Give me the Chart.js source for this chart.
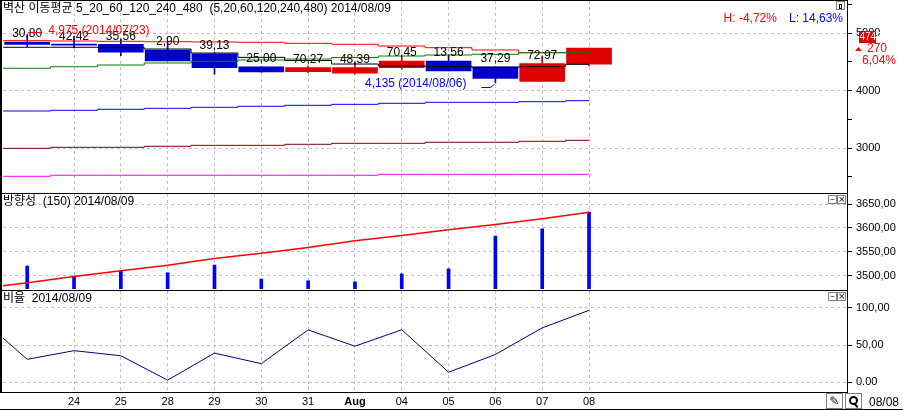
<!DOCTYPE html>
<html lang="ko">
<head>
<meta charset="utf-8">
<title>벽산 이동평균</title>
<script src="https://cdn.jsdelivr.net/npm/chart.js@4.4.1/dist/chart.umd.min.js"></script>
<style>
  body { margin: 0; background: #fff; }
  #wrap { position: relative; width: 903px; height: 410px; overflow: hidden; background: #fff; }
  #wrap canvas { position: absolute; left: 0; }
  .lbl { position: absolute; white-space: pre; font: 12px "Liberation Sans", "Noto Sans CJK KR", sans-serif; line-height: 14px; color: #000; z-index: 3; }
  .ln { position: absolute; background: #000; z-index: 2; }
  .ico { position: absolute; box-sizing: border-box; border: 1px solid #808080; background: #fff; z-index: 3;
         font: 9px "DejaVu Sans", sans-serif; line-height: 7px; text-align: center; color: #000; }
</style>
</head>
<body>
<div id="wrap">
  <canvas id="priceChart" width="903" height="193" style="top:0"></canvas>
  <canvas id="dirChart" width="903" height="97" style="top:193px"></canvas>
  <canvas id="ratioChart" width="903" height="120" style="top:290px"></canvas>

  <!-- frame -->
  <div class="ln" style="left:0;top:0;width:848px;height:1px"></div>
  <div class="ln" style="left:0;top:0;width:2px;height:393px"></div>
  <div class="ln" style="left:847px;top:0;width:1px;height:393px"></div>
  <div class="ln" style="left:0;top:193px;width:848px;height:1px"></div>
  <div class="ln" style="left:0;top:290px;width:848px;height:1px"></div>
  <div class="ln" style="left:0;top:392px;width:848px;height:1px"></div>
  <div class="ln" style="left:0;top:409px;width:903px;height:1px"></div>

  <!-- panel titles -->
  <div class="lbl" style="left:3px;top:1px">벽산 이동평균 5_20_60_120_240_480  (5,20,60,120,240,480) 2014/08/09</div>
  <div class="lbl" style="left:3px;top:194px">방향성  (150) 2014/08/09</div>
  <div class="lbl" style="left:3px;top:291px">비율  2014/08/09</div>
  <div class="lbl" id="lastDay" style="left:869px;top:395px"></div>

  <!-- window icons -->
  <div class="ico" style="left:836px;top:1px;width:9px;height:9px;padding:1px"><div style="border:1px solid #000;height:3px;margin:1px"></div></div>
  <div class="ico" style="left:828px;top:195px;width:9px;height:9px">&#8211;</div>
  <div class="ico" style="left:837px;top:195px;width:9px;height:9px">&#215;</div>
  <div class="ico" style="left:828px;top:292px;width:9px;height:9px">&#8211;</div>
  <div class="ico" style="left:837px;top:292px;width:9px;height:9px">&#215;</div>
  <div class="ico" style="left:826px;top:393px;width:17px;height:16px;font-size:12px;line-height:14px">&#9998;</div>
  <div class="ico" style="left:845px;top:393px;width:17px;height:16px">
    <div style="position:absolute;left:3px;top:2px;width:5px;height:5px;border:2px solid #000;border-radius:50%"></div>
    <div style="position:absolute;left:9px;top:9px;width:2px;height:5px;background:#000;transform:rotate(-45deg)"></div>
  </div>
</div>

<script>
// Trading days shown
const dates = ['2014/07/23', '2014/07/24', '2014/07/25', '2014/07/28', '2014/07/29', '2014/07/30', '2014/07/31',
               '2014/08/01', '2014/08/04', '2014/08/05', '2014/08/06', '2014/08/07', '2014/08/08'];
const dayLabels = ['23', '24', '25', '28', '29', '30', '31', 'Aug', '04', '05', '06', '07', '08'];

// Daily prices
const openP  = [4845, 4808, 4805, 4707, 4643, 4414, 4333, 4305, 4402, 4517, 4414, 4160, 4460];
const highP  = [4975, 4950, 4890, 4862, 4660, 4420, 4430, 4488, 4603, 4603, 4420, 4603, 4740];
const lowP   = [4764, 4745, 4610, 4517, 4288, 4320, 4315, 4288, 4374, 4345, 4135, 4160, 4430];
const closeP = [4805, 4792, 4672, 4517, 4402, 4328, 4402, 4402, 4517, 4345, 4212, 4470, 4740];

// Moving averages 5 / 20 / 60 / 120 / 240 / 480
const ma5   = [4755, 4755, 4750, 4725, 4655, 4580, 4525, 4464, 4430, 4420, 4407, 4417, 4459];
const ma20  = [4870, 4864, 4859, 4852, 4847, 4842, 4824, 4807, 4777, 4748, 4708, 4661, 4668];
const ma60  = [4390, 4417, 4447, 4482, 4511, 4534, 4551, 4577, 4603, 4621, 4633, 4661, 4668];
const ma120 = [3647, 3659, 3677, 3694, 3711, 3729, 3746, 3763, 3781, 3798, 3798, 3809, 3826];
const ma240 = [2998, 3016, 3016, 3033, 3050, 3050, 3068, 3085, 3085, 3103, 3103, 3120, 3137];
const ma480 = [2511, 2529, 2529, 2529, 2529, 2529, 2529, 2529, 2546, 2546, 2546, 2546, 2546];

// 방향성 (150) panel
const dirBars  = [3520, 3499, 3510, 3506, 3522, 3493, 3489, 3487, 3504, 3514, 3583, 3598, 3633];
const dirTrend = [3485, 3498, 3510, 3522, 3536, 3547, 3559, 3573, 3584, 3596, 3607, 3619, 3633];
const dirTrendPrev = 3473;

// 비율 panel
const ratio = [30.80, 42.42, 35.56, 2.90, 39.13, 25.00, 70.27, 48.39, 70.45, 13.56, 37.29, 72.97, 96.5];
const ratioPrev = 86;

// Axis ticks
const priceTicks = [2500, 3000, 3500, 4000, 4500, 5000, 5500];
const dirTicks = [3500, 3550, 3600, 3650];
const ratioTicks = [0, 50, 100];

const X_MIN = -0.517, X_MAX = 17.51;
const numFont = '"Liberation Sans", sans-serif';
const plain = '"Liberation Sans", "Noto Sans CJK KR", sans-serif';
const gridGray = '#c0c0c0';
const upRed = '#e00000';
const downBlue = '#0000cc';

const fmtDec = v => v.toFixed(2).replace('.', ',');
const fmtInt = v => String(v).replace(/\B(?=(\d{3})+(?!\d))/g, ',');
const candleColor = openP.map((o, i) => closeP[i] >= o ? upRed : downBlue);
const withPrev = (arr, prev) => [{x: -1, y: prev}].concat(arr.map((v, i) => ({x: i, y: v})));
const floatBars = (a, b) => a.map((v, i) => ({x: i, y: [v, b[i]]}));

Chart.defaults.animation = false;
Chart.defaults.plugins.legend.display = false;
Chart.defaults.plugins.tooltip.enabled = false;

function xAxis(showLabels) {
    return {
        type: 'linear',
        min: X_MIN,
        max: X_MAX,
        offset: false,
        afterBuildTicks: s => { s.ticks = dayLabels.map((d, i) => ({value: i})).slice(1); },
        afterFit: s => { s.height = showLabels ? 18 : 0; s.paddingLeft = 0; s.paddingRight = 0; },
        grid: { color: gridGray, drawTicks: false, offset: false },
        border: { display: false, dash: [3, 3] },
        ticks: {
            display: showLabels,
            padding: 3,
            color: '#000',
            autoSkip: false,
            maxRotation: 0,
            callback: v => dayLabels[v],
            font: c => ({ family: numFont, size: 11, weight: c.tick && c.tick.label === 'Aug' ? 'bold' : 'normal' })
        }
    };
}

function yAxis(min, max, ticks, label, gridAt) {
    return {
        position: 'right',
        min: min,
        max: max,
        afterBuildTicks: s => { s.ticks = ticks.map(v => ({value: v})); },
        afterFit: s => { s.width = 56; s.paddingTop = 0; s.paddingBottom = 0; },
        grid: {
            color: c => (c.tick && gridAt(c.tick.value)) ? gridGray : 'rgba(0,0,0,0)',
            tickColor: '#000',
            tickLength: 5,
            tickWidth: 1
        },
        border: { display: false, dash: [3, 3] },
        ticks: { padding: 4, color: '#000', autoSkip: false, font: { family: numFont, size: 11 }, callback: label }
    };
}

function maLine(data, color, order) {
    return {
        type: 'line',
        data: withPrev(data, data[0]),
        borderColor: color,
        borderWidth: 1,
        pointRadius: 0,
        stepped: 'middle',
        fill: false,
        order: order
    };
}

// Candle captions, high / low markers, current price box
const priceNotes = {
    id: 'priceNotes',
    afterDatasetsDraw(chart) {
        const {ctx, chartArea, scales: {x, y}} = chart;
        ctx.save();
        ctx.font = '12px ' + plain;
        ctx.fillStyle = '#000';
        ctx.textAlign = 'center';
        ctx.textBaseline = 'bottom';
        ratio.slice(0, -1).forEach((r, i) => {
            ctx.fillText(fmtDec(r), x.getPixelForValue(i), y.getPixelForValue(Math.max(openP[i], closeP[i])) - 2);
        });

        const hiVal = Math.max(...highP), hi = highP.indexOf(hiVal);
        const loVal = Math.min(...lowP), lo = lowP.indexOf(loVal);
        const hx = x.getPixelForValue(hi), hy = y.getPixelForValue(hiVal);
        const lx = x.getPixelForValue(lo), ly = y.getPixelForValue(loVal);

        ctx.lineWidth = 1;
        ctx.strokeStyle = ctx.fillStyle = '#ff0000';
        ctx.beginPath();
        ctx.moveTo(hx + 1, Math.round(hy) - 2.5);
        ctx.lineTo(hx + 15, Math.round(hy) - 2.5);
        ctx.stroke();
        ctx.textAlign = 'left';
        ctx.textBaseline = 'middle';
        ctx.fillText(fmtInt(hiVal) + ' (' + dates[hi] + ')', hx + 21, hy - 4);

        ctx.strokeStyle = ctx.fillStyle = '#0000ff';
        ctx.beginPath();
        ctx.moveTo(lx - 14, Math.round(ly) + 4.5);
        ctx.lineTo(lx - 5, Math.round(ly) + 4.5);
        ctx.lineTo(lx - 1, Math.round(ly) + 1.5);
        ctx.stroke();
        ctx.textAlign = 'right';
        ctx.fillText(fmtInt(loVal) + ' (' + dates[lo] + ')', lx - 29, ly + 1);

        // H / L distance from the last close
        const last = closeP[closeP.length - 1];
        const lText = 'L: ' + fmtDec((last / loVal - 1) * 100) + '%';
        const hText = 'H: ' + fmtDec((last / hiVal - 1) * 100) + '%';
        ctx.fillStyle = '#0000ff';
        ctx.fillText(lText, chartArea.right - 4, 19);
        ctx.fillStyle = '#ff0000';
        ctx.fillText(hText, chartArea.right - 16 - ctx.measureText(lText).width, 19);
        ctx.restore();
    },
    afterDraw(chart) {
        const {ctx, chartArea, scales: {y}} = chart;
        const n = closeP.length - 1;
        const cy = Math.round(y.getPixelForValue(closeP[n]));
        const bx = chartArea.right + 12;
        const chg = closeP[n] - closeP[n - 1];
        ctx.save();
        ctx.fillStyle = upRed;
        ctx.fillRect(bx, cy - 17, 17, 12);
        ctx.font = '10px ' + numFont;
        ctx.textBaseline = 'middle';
        ctx.fillStyle = '#fff';
        ctx.fillText(String(closeP[n]), bx + 0.5, cy - 10.5);
        ctx.fillStyle = '#ff0000';
        ctx.beginPath();
        ctx.moveTo(chartArea.right + 8, cy + 3);
        ctx.lineTo(chartArea.right + 11.5, cy - 1);
        ctx.lineTo(chartArea.right + 15, cy + 3);
        ctx.closePath();
        ctx.fill();
        ctx.font = '12px ' + plain;
        ctx.fillText(String(chg), chartArea.right + 20, cy + 1);
        ctx.fillText(fmtDec(chg / closeP[n - 1] * 100) + '%', chartArea.right + 15, cy + 13);
        ctx.restore();
    }
};

new Chart(document.getElementById('priceChart'), {
    type: 'bar',
    data: {
        datasets: [
            maLine(ma5, '#000000', 1),
            maLine(ma60, '#008000', 2),
            maLine(ma20, '#ff0000', 3),
            maLine(ma120, '#0000ff', 4),
            maLine(ma240, '#800000', 5),
            maLine(ma480, '#ff00ff', 6),
            { type: 'bar', data: floatBars(openP, closeP), backgroundColor: candleColor, barThickness: 45,
              grouped: false, minBarLength: 1, order: 7 },
            { type: 'bar', data: floatBars(lowP, highP), backgroundColor: candleColor, barThickness: 1,
              grouped: false, order: 8 }
        ]
    },
    options: {
        responsive: false,
        devicePixelRatio: 1,
        layout: { padding: { left: 3, top: 1, right: 0, bottom: 0 } },
        scales: {
            x: xAxis(false),
            y: yAxis(2221, 5560, priceTicks, v => v % 1000 === 0 ? String(v) : '', v => v % 1000 === 0)
        }
    },
    plugins: [priceNotes]
});

new Chart(document.getElementById('dirChart'), {
    type: 'bar',
    data: {
        datasets: [
            { type: 'line', data: withPrev(dirTrend, dirTrendPrev), borderColor: '#ff0000', borderWidth: 1.5,
              pointRadius: 0, tension: 0, order: 1 },
            { type: 'bar', data: dirBars.map((v, i) => ({x: i, y: v})), backgroundColor: '#0000ff',
              barThickness: 3, grouped: false, order: 2 }
        ]
    },
    options: {
        responsive: false,
        devicePixelRatio: 1,
        layout: { padding: { left: 3, top: 1, right: 0, bottom: 1 } },
        scales: {
            x: xAxis(false),
            y: yAxis(3472, 3671, dirTicks, v => fmtDec(v), () => true)
        }
    }
});

new Chart(document.getElementById('ratioChart'), {
    type: 'line',
    data: {
        datasets: [
            { data: withPrev(ratio, ratioPrev), borderColor: '#000080', borderWidth: 1, pointRadius: 0, tension: 0 }
        ]
    },
    options: {
        responsive: false,
        devicePixelRatio: 1,
        layout: { padding: { left: 3, top: 1, right: 0, bottom: 0 } },
        scales: {
            x: xAxis(true),
            y: yAxis(-13, 122.4, ratioTicks, v => v === 0 ? '0.00' : fmtDec(v), () => true)
        }
    }
});

document.getElementById('lastDay').textContent = dates[dates.length - 1].slice(5);
</script>
</body>
</html>
